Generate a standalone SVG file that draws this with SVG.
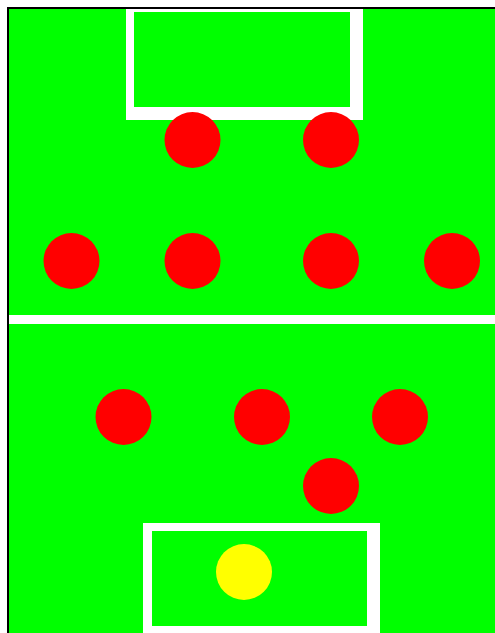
<svg xmlns="http://www.w3.org/2000/svg" width="495" height="633" viewBox="0 0 495 633">
<style>
.line{fill:#ffffff}
.field{fill:#00ff00}
.player{fill:#ff0000}
.ball{fill:#ffff00}
</style>
<rect x="0" y="0" width="495" height="633" fill="#ffffff"/>
<rect x="7" y="7" width="488" height="626" fill="#000000"/>
<rect class="field" x="9" y="9" width="486" height="624"/>
<g id="top-box">
<rect class="line" x="126" y="9" width="237" height="111"/>
<rect class="field" x="134" y="12" width="216" height="95"/>
</g>
<g id="midline"><rect class="line" x="9" y="315" width="486" height="9"/></g>
<g id="bottom-box">
<rect class="line" x="143" y="523" width="237" height="110"/>
<rect class="field" x="152" y="531" width="215" height="95"/>
</g>
<g id="p1"><circle class="player" cx="192.5" cy="140" r="28"/></g>
<g id="p2"><circle class="player" cx="331" cy="140" r="28"/></g>
<g id="p3"><circle class="player" cx="71.5" cy="261" r="28"/></g>
<g id="p4"><circle class="player" cx="192.5" cy="261" r="28"/></g>
<g id="p5"><circle class="player" cx="331" cy="261" r="28"/></g>
<g id="p6"><circle class="player" cx="452" cy="261" r="28"/></g>
<g id="p7"><circle class="player" cx="123.5" cy="417" r="28"/></g>
<g id="p8"><circle class="player" cx="262" cy="417" r="28"/></g>
<g id="p9"><circle class="player" cx="400" cy="417" r="28"/></g>
<g id="p10"><circle class="player" cx="331" cy="486" r="28"/></g>
<g id="ball"><circle class="ball" cx="244" cy="572" r="28"/></g>
<g id="connectors"></g>
</svg>
